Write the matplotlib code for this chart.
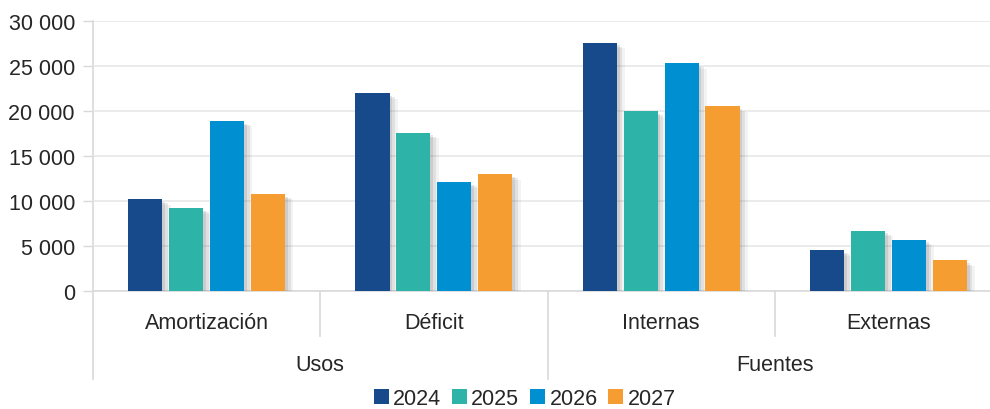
import numpy as np
import matplotlib.pyplot as plt
import matplotlib.patheffects as pe
from matplotlib.patches import Patch

plt.rcParams['font.family'] = ['Liberation Sans Narrow', 'Liberation Sans', 'DejaVu Sans']

# Datos
categorias = ['Amortización', 'Déficit', 'Internas', 'Externas']
grupos = ['Usos', 'Fuentes']
anios = ['2024', '2025', '2026', '2027']
v2024 = [10200, 22000, 27600, 4550]
v2025 = [9200, 17600, 20000, 6700]
v2026 = [18900, 12100, 25300, 5700]
v2027 = [10800, 13000, 20500, 3400]
valores = [v2024, v2025, v2026, v2027]
colores = ['#174A8B', '#2EB3A8', '#0090D2', '#F59D30']

gris = '#d9d9d9'
txt = '#262626'
fs = 15.5

fig = plt.figure(figsize=(9.9, 4.1), dpi=100)
ax = fig.add_axes([93/990, 118/410, 909/990, 270/410])

x = np.arange(len(categorias))
paso = 0.18
ancho = 0.15
# sombra difusa aproximada
sombra = [pe.SimplePatchShadow(offset=(2, -2), shadow_rgbFace='#707070', alpha=0.18),
          pe.SimplePatchShadow(offset=(4, -3), shadow_rgbFace='#707070', alpha=0.14),
          pe.SimplePatchShadow(offset=(6, -4), shadow_rgbFace='#707070', alpha=0.08),
          pe.Normal()]
for i, (v, c) in enumerate(zip(valores, colores)):
    bars = ax.bar(x + (i - 1.5) * paso, v, ancho, color=c, zorder=3)
    for b in bars:
        b.set_path_effects(sombra)

ax.set_xlim(-0.5, 3.5)
ax.set_ylim(0, 30000)
ax.set_yticks(range(0, 30001, 5000))
ax.set_yticklabels([f'{t:,}'.replace(',', ' ') for t in range(0, 30001, 5000)],
                   fontsize=fs, color=txt)
ax.tick_params(axis='y', length=7, color=gris, width=1, pad=6)
ax.set_xticks([])
ax.grid(axis='y', color='#e8e8e8', linewidth=1.2, zorder=0)
for s in ['top', 'right', 'left']:
    ax.spines[s].set_visible(False)
ax.spines['bottom'].set_color(gris)
ax.spines['bottom'].set_linewidth(1.2)

tr = ax.get_xaxis_transform()
# separadores
ax.plot([-0.5, -0.5], [1, -0.326], transform=tr, color=gris, lw=1.2, clip_on=False, zorder=1)
for xs in [0.5, 2.5]:
    ax.plot([xs, xs], [0, -0.167], transform=tr, color=gris, lw=1.2, clip_on=False)
ax.plot([1.5, 1.5], [0, -0.326], transform=tr, color=gris, lw=1.2, clip_on=False)

for xi, cat in zip(x, categorias):
    ax.text(xi, -0.115, cat, transform=tr, ha='center', va='center', fontsize=fs, color=txt)
for gi, g in enumerate(grupos):
    ax.text(0.5 + 2 * gi, -0.274, g, transform=tr, ha='center', va='center', fontsize=fs, color=txt)

handles = [Patch(facecolor=c) for c in colores]
fig.legend(handles, anios, loc='center', bbox_to_anchor=(0.53, 0.025), ncol=4, frameon=False,
           fontsize=fs, handlelength=0.7, handleheight=0.7, handletextpad=0.2,
           columnspacing=0.5, labelcolor=txt)

fig.savefig('out.png', dpi=100)
